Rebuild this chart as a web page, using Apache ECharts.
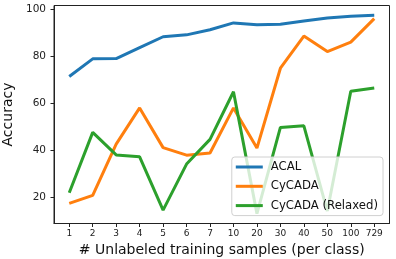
<!DOCTYPE html>
<html>
<head>
<meta charset="utf-8">
<script src="https://cdn.jsdelivr.net/npm/echarts@6/dist/echarts.min.js"></script>
<style>
html,body{margin:0;padding:0;background:#fff;}
#c{width:396px;height:259px;}
</style>
</head>
<body>
<div id="c"></div>
<script>
var categories = ['1','2','3','4','5','6','7','10','20','30','40','50','100','729'];
var acal = [71.3, 78.8, 78.9, 83.6, 88.2, 89.0, 91.2, 94.1, 93.3, 93.5, 94.9, 96.2, 96.9, 97.3];
var cycada = [17.3, 20.7, 42.5, 57.9, 41.0, 37.8, 38.7, 57.9, 40.8, 74.8, 88.5, 81.9, 85.9, 95.9];
var cycadaRelaxed = [21.8, 47.5, 37.9, 37.1, 14.4, 34.0, 44.5, 64.8, 12.9, 49.6, 50.3, 14.0, 65.0, 66.4];
var yTicks = [20, 40, 60, 80, 100];

function pts(arr){ return arr.map(function(v,i){ return [i, v]; }); }
var xIdx = categories.map(function(c,i){ return i; });
var font = 'DejaVu Sans';

var chart = echarts.init(document.getElementById('c'), null, {renderer:'canvas'});
chart.setOption({
  animation: false,
  backgroundColor: '#fff',
  grid: {left: 54, right: 6.5, top: 5.5, bottom: 35.5, outerBoundsMode: 'none', containLabel: false, show: true, borderColor: '#222', borderWidth: 1, backgroundColor: 'transparent'},
  xAxis: {
    type: 'value', min: -0.65, max: 13.65,
    splitLine: {show: false},
    axisLine: {show: true, onZero: false, lineStyle: {color: '#222', width: 1}},
    axisTick: {show: true, inside: false, customValues: xIdx, length: 3.5, lineStyle: {color: '#222', width: 1}},
    axisLabel: {customValues: xIdx, formatter: function(v){ return categories[Math.round(v)]; }, fontFamily: font, fontSize: 9, color: '#222', margin: 6},
    name: '# Unlabeled training samples (per class)', nameLocation: 'middle', nameGap: 17,
    nameTextStyle: {fontFamily: font, fontSize: 14, color: '#111'}
  },
  yAxis: {
    type: 'value', min: 8.7, max: 101.5,
    splitLine: {show: false},
    axisLine: {show: true, onZero: false, lineStyle: {color: '#222', width: 1}},
    axisTick: {show: true, inside: false, customValues: yTicks, length: 3.5, lineStyle: {color: '#222', width: 1}},
    axisLabel: {customValues: yTicks, fontFamily: font, fontSize: 10.5, color: '#222', margin: 8},
    name: 'Accuracy', nameLocation: 'middle', nameGap: 33,
    nameTextStyle: {fontFamily: font, fontSize: 14, color: '#111'}
  },
  legend: {
    orient: 'vertical', right: 13, top: 157,
    icon: 'rect', itemWidth: 27, itemHeight: 3, itemGap: 5.3,
    padding: [3, 5, 3, 4],
    backgroundColor: 'rgba(255,255,255,0.8)', borderColor: '#d0d0d0', borderWidth: 1, borderRadius: 3,
    textStyle: {fontFamily: font, fontSize: 11.7, color: '#111', lineHeight: 14, padding: [0,0,0,3]},
    data: ['ACAL', 'CyCADA', 'CyCADA (Relaxed)']
  },
  series: [
    {name: 'ACAL', type: 'line', data: pts(acal), showSymbol: false, symbol: 'none', lineStyle: {width: 3, color: '#1f77b4'}, itemStyle: {color: '#1f77b4'}},
    {name: 'CyCADA', type: 'line', data: pts(cycada), showSymbol: false, symbol: 'none', lineStyle: {width: 3, color: '#ff7f0e'}, itemStyle: {color: '#ff7f0e'}},
    {name: 'CyCADA (Relaxed)', type: 'line', data: pts(cycadaRelaxed), showSymbol: false, symbol: 'none', lineStyle: {width: 3, color: '#2ca02c'}, itemStyle: {color: '#2ca02c'}}
  ]
});
</script>
</body>
</html>
